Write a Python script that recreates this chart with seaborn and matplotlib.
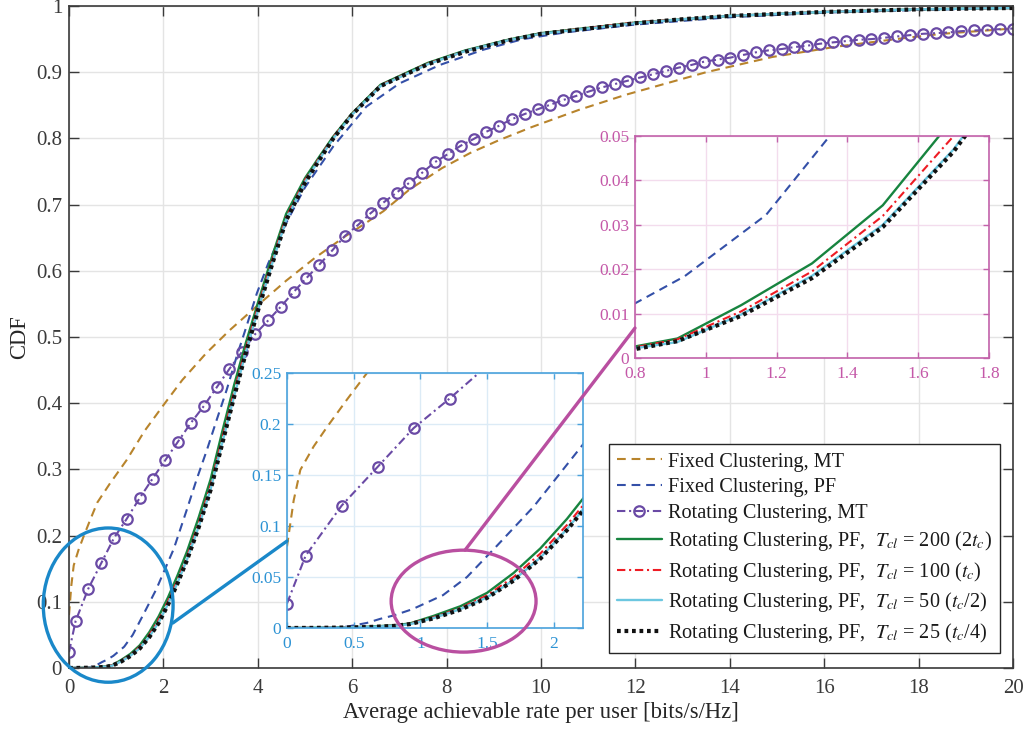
import matplotlib
matplotlib.use("Agg")
import matplotlib.pyplot as plt
import seaborn as sns
from matplotlib.patches import Ellipse, ConnectionPatch
from matplotlib.lines import Line2D

# ---------------- data ----------------
fixed_mt_x = [0, 0.05, 0.1, 0.2, 0.3, 0.45, 0.6, 0.87, 1.22, 1.6, 2.0, 2.4, 2.9, 3.4, 4.0,
              4.6, 5.2, 5.85, 6.2, 6.66, 7.2, 7.9, 8.5, 9.1, 9.8, 10.8, 11.8, 12.5, 13.5,
              14.9, 16.3, 17.75, 18.5, 20.0]
fixed_mt_y = [0.08, 0.125, 0.155, 0.178, 0.197, 0.224, 0.25, 0.279, 0.314, 0.358, 0.397,
              0.435, 0.475, 0.51, 0.548, 0.585, 0.619, 0.652, 0.668, 0.69, 0.722, 0.755,
              0.778, 0.797, 0.817, 0.843, 0.866, 0.88, 0.9, 0.923, 0.939, 0.952, 0.958, 0.966]

fixed_pf_x = [0, 0.3, 0.45, 0.6, 0.7, 0.8, 0.94, 1.17, 1.35, 1.57, 1.85, 2.22, 2.5, 2.7,
              2.92, 3.13, 3.34, 3.55, 3.76, 3.98, 4.22, 4.6, 5.0, 5.6, 6.3, 7.0, 7.86, 8.78,
              9.62, 10.5, 12.0, 14.0, 16.0, 18.0, 20.0]
fixed_pf_y = [0, 0.0003, 0.0013, 0.005, 0.009, 0.0123, 0.0184, 0.0322, 0.050, 0.080, 0.119,
              0.180, 0.240, 0.284, 0.329, 0.375, 0.420, 0.470, 0.516, 0.566, 0.611, 0.672,
              0.726, 0.788, 0.848, 0.883, 0.911, 0.934, 0.950, 0.960, 0.972, 0.983, 0.990,
              0.994, 0.997]

rot_mt_x = [0, 0.14, 0.41, 0.68, 0.95, 1.22, 1.50, 1.77, 2.04, 2.31, 2.58, 2.86, 3.13, 3.40,
            3.67, 3.94, 4.22, 4.49, 4.76, 5.03, 5.30, 5.58, 5.85, 6.12, 6.39, 6.66, 6.94,
            7.21, 7.48, 7.75, 8.02, 8.30, 8.57, 8.84, 9.11, 9.38, 9.66, 9.93, 10.20, 10.47,
            10.74, 11.02, 11.29, 11.56, 11.83, 12.10, 12.38, 12.65, 12.92, 13.19, 13.46,
            13.74, 14.01, 14.28, 14.55, 14.82, 15.10, 15.37, 15.64, 15.91, 16.18, 16.46,
            16.73, 17.00, 17.27, 17.54, 17.82, 18.09, 18.36, 18.63, 18.90, 19.18, 19.45,
            19.72, 20.00]
rot_mt_y = [0.024, 0.071, 0.120, 0.158, 0.196, 0.225,
            0.257, 0.286, 0.314, 0.342, 0.370, 0.396,
            0.424, 0.452, 0.478, 0.504, 0.525, 0.546,
            0.568, 0.589, 0.609, 0.631, 0.653, 0.669,
            0.687, 0.703, 0.718, 0.733, 0.748, 0.764,
            0.776, 0.789, 0.799, 0.810, 0.819, 0.829,
            0.837, 0.844, 0.851, 0.858, 0.864, 0.871,
            0.877, 0.882, 0.887, 0.892, 0.897, 0.902,
            0.907, 0.911, 0.916, 0.919, 0.922, 0.926,
            0.930, 0.933, 0.935, 0.938, 0.940, 0.943,
            0.945, 0.947, 0.949, 0.950, 0.952, 0.954,
            0.956, 0.958, 0.959, 0.960, 0.962, 0.963,
            0.964, 0.965, 0.966]

rot_pf_x = [0, 0.2, 0.4, 0.6, 0.8, 0.92, 1.1, 1.3, 1.5, 1.7, 1.9, 2.1, 2.3, 2.5, 2.75, 3.0,
            3.25, 3.5, 3.75, 4.0, 4.3, 4.6, 5.0, 5.3, 5.6, 6.0, 6.6, 7.6, 8.4, 9.3, 10.0,
            11.0, 12.0, 13.0, 14.0, 16.0, 18.0, 20.0]
rot_pf_200_y = [0, 0.0002, 0.0005, 0.0012, 0.0026, 0.0044, 0.0119, 0.0213, 0.0344, 0.054,
                0.078, 0.107, 0.140, 0.176, 0.228, 0.285, 0.358, 0.428, 0.492, 0.551,
                0.621, 0.686, 0.740, 0.772, 0.803, 0.838, 0.881, 0.914, 0.933, 0.949,
                0.959, 0.967, 0.975, 0.980, 0.985, 0.991, 0.995, 0.997]
rot_pf_100_y = [0, 0.0002, 0.0005, 0.0011, 0.0024, 0.0042, 0.0105, 0.0195, 0.0320, 0.050,
                0.073, 0.101, 0.133, 0.168, 0.219, 0.276, 0.348, 0.418, 0.484, 0.545,
                0.615, 0.681, 0.737, 0.770, 0.802, 0.837, 0.880, 0.913, 0.932, 0.948,
                0.958, 0.967, 0.975, 0.980, 0.985, 0.991, 0.995, 0.997]
rot_pf_50_y = [0, 0.0001, 0.0004, 0.0010, 0.0022, 0.0036, 0.0098, 0.0185, 0.0300, 0.047,
               0.069, 0.097, 0.129, 0.164, 0.214, 0.270, 0.341, 0.411, 0.478, 0.540,
               0.610, 0.677, 0.734, 0.768, 0.800, 0.836, 0.879, 0.912, 0.932, 0.948,
               0.958, 0.966, 0.974, 0.980, 0.985, 0.991, 0.995, 0.997]
rot_pf_25_y = [0, 0.0001, 0.0004, 0.0009, 0.0020, 0.0038, 0.0095, 0.0180, 0.0295, 0.0465,
               0.068, 0.096, 0.128, 0.163, 0.213, 0.269, 0.340, 0.410, 0.477, 0.539,
               0.609, 0.676, 0.733, 0.767, 0.800, 0.836, 0.879, 0.912, 0.931, 0.948,
               0.958, 0.966, 0.974, 0.980, 0.985, 0.991, 0.995, 0.997]

labels = ["Fixed Clustering, MT",
          "Fixed Clustering, PF",
          "Rotating Clustering, MT",
          r"Rotating Clustering, PF,  $T_{cl}$ = 200 (2$t_c$)",
          r"Rotating Clustering, PF,  $T_{cl}$ = 100 ($t_c$)",
          r"Rotating Clustering, PF,  $T_{cl}$ = 50 ($t_c$/2)",
          r"Rotating Clustering, PF,  $T_{cl}$ = 25 ($t_c$/4)"]

main_xticks = [0, 2, 4, 6, 8, 10, 12, 14, 16, 18, 20]
main_xticklabels = ["0", "2", "4", "6", "8", "10", "12", "14", "16", "18", "20"]
main_yticks = [0, 0.1, 0.2, 0.3, 0.4, 0.5, 0.6, 0.7, 0.8, 0.9, 1.0]
main_yticklabels = ["0", "0.1", "0.2", "0.3", "0.4", "0.5", "0.6", "0.7", "0.8", "0.9", "1"]
blue_xticks = [0, 0.5, 1, 1.5, 2]
blue_xticklabels = ["0", "0.5", "1", "1.5", "2"]
blue_yticks = [0, 0.05, 0.1, 0.15, 0.2, 0.25]
blue_yticklabels = ["0", "0.05", "0.1", "0.15", "0.2", "0.25"]
pink_xticks = [0.8, 1.0, 1.2, 1.4, 1.6, 1.8]
pink_xticklabels = ["0.8", "1", "1.2", "1.4", "1.6", "1.8"]
pink_yticks = [0, 0.01, 0.02, 0.03, 0.04, 0.05]
pink_yticklabels = ["0", "0.01", "0.02", "0.03", "0.04", "0.05"]

# ---------------- styling ----------------
sns.set_theme(style="whitegrid")
plt.rcParams['font.family'] = ['Liberation Serif', 'DejaVu Serif']
plt.rcParams['mathtext.fontset'] = 'stix'

styles = [
    dict(x=fixed_mt_x, y=fixed_mt_y, color='#b8842c', linestyle=(0, (4.2, 2.8)), linewidth=1.5),
    dict(x=fixed_pf_x, y=fixed_pf_y, color='#3450a8', linestyle=(0, (4.2, 2.8)), linewidth=1.5),
    dict(x=rot_mt_x, y=rot_mt_y, color='#6a4aa5', linestyle=(0, (4.0, 1.8, 1.0, 1.8)), linewidth=1.5,
         marker='o', markersize=7.5, markerfacecolor='none', markeredgecolor='#6a4aa5',
         markeredgewidth=1.6),
    dict(x=rot_pf_x, y=rot_pf_200_y, color='#17843f', linestyle='-', linewidth=1.7),
    dict(x=rot_pf_x, y=rot_pf_100_y, color='#ee1c24', linestyle=(0, (4.0, 1.8, 1.0, 1.8)), linewidth=1.5),
    dict(x=rot_pf_x, y=rot_pf_50_y, color='#6cc7e0', linestyle='-', linewidth=1.7),
    dict(x=rot_pf_x, y=rot_pf_25_y, color='#111111', linestyle=(0, (0.9, 0.9)), linewidth=3.0),
]


def draw_series(a):
    for st in styles:
        kws = {k: v for k, v in st.items() if k not in ('x', 'y')}
        if 'marker' not in kws:
            kws['marker'] = ''
            kws['markeredgewidth'] = 0
            kws['markeredgecolor'] = st['color']
        sns.lineplot(x=st['x'], y=st['y'], ax=a, estimator=None, sort=False, **kws)
        if a.get_legend() is not None:
            a.get_legend().remove()


def style_axes(a, xlim, ylim, xt, xtl, yt, ytl, spine_c, label_c, grid_c, lsize, tlen, xpad, ypad):
    a.set_facecolor('white')
    a.set_xlim(*xlim)
    a.set_ylim(*ylim)
    a.set_xticks(xt)
    a.set_xticklabels(xtl)
    a.set_yticks(yt)
    a.set_yticklabels(ytl)
    a.grid(True, color=grid_c, linewidth=1.0)
    a.set_axisbelow(True)
    for sp in a.spines.values():
        sp.set_visible(True)
        sp.set_color(spine_c)
        sp.set_linewidth(1.2)
    a.tick_params(direction='in', length=tlen, width=1.0, color=spine_c, labelcolor=label_c,
                  labelsize=lsize, top=True, right=True, bottom=True, left=True)
    a.tick_params(axis='x', pad=xpad)
    a.tick_params(axis='y', pad=ypad)
    a.set_xlabel('')
    a.set_ylabel('')


fig = plt.figure(figsize=(10.29, 7.32), dpi=100)
fig.patch.set_facecolor('white')

ax = fig.add_axes([69 / 1029, 1 - 668 / 732, 944 / 1029, 662 / 732])
draw_series(ax)
style_axes(ax, (0, 20), (0, 1), main_xticks, main_xticklabels, main_yticks, main_yticklabels,
           '#3a3a3a', '#3a3a3a', '#e4e4e4', 15, 7, 8, 5)
ax.set_xlabel('Average achievable rate per user [bits/s/Hz]', fontsize=16.3, color='#262626', labelpad=3)
ax.set_ylabel('CDF', fontsize=16.3, color='#262626', labelpad=4)

# legend
handles = []
for st in styles:
    handles.append(Line2D([], [], color=st['color'], linestyle=st['linestyle'],
                          linewidth=st['linewidth'], marker=st.get('marker', ''),
                          markersize=st.get('markersize', 0), markerfacecolor='none',
                          markeredgecolor=st['color'], markeredgewidth=st.get('markeredgewidth', 0)))
leg = ax.legend(handles, labels, loc='lower right', bbox_to_anchor=(0.986, 0.0227),
                frameon=True, fancybox=False, edgecolor='#262626', framealpha=1,
                fontsize=14.6, handlelength=2.2, handletextpad=0.3, borderpad=0.4,
                labelspacing=0.32, borderaxespad=0)
leg.get_frame().set_linewidth(1.0)
for t in leg.get_texts():
    t.set_color('#1a1a1a')

# blue inset
blue = '#2d93d4'
axb = fig.add_axes([287 / 1029, 1 - 628 / 732, 296 / 1029, 255 / 732])
draw_series(axb)
style_axes(axb, (0, 2.22), (0, 0.25), blue_xticks, blue_xticklabels, blue_yticks, blue_yticklabels,
           '#4aa2dc', blue, '#dcebf6', 12.5, 4, 6, 4)

# pink inset
pink = '#c458a8'
axp = fig.add_axes([635 / 1029, 1 - 358 / 732, 354 / 1029, 222 / 732])
draw_series(axp)
style_axes(axp, (0.8, 1.8), (0, 0.05), pink_xticks, pink_xticklabels, pink_yticks, pink_yticklabels,
           '#c262aa', pink, '#f3dced', 12.5, 4, 6, 4)

# zoom markers: ellipses and connecting lines
e1 = Ellipse((0.83, 0.095), 2.75, 0.233, transform=ax.transData, fill=False,
             edgecolor='#1a88c9', linewidth=2.4, zorder=10)
fig.add_artist(e1)
c1 = ConnectionPatch(xyA=(2.2, 0.068), coordsA=ax.transData, xyB=(0, 0.341), coordsB=axb.transAxes,
                     color='#1a88c9', linewidth=2.4, zorder=10)
fig.add_artist(c1)

e2 = Ellipse((8.36, 0.101), 3.07, 0.154, transform=ax.transData, fill=False,
             edgecolor='#b94fa0', linewidth=2.4, zorder=10)
fig.add_artist(e2)
c2 = ConnectionPatch(xyA=(8.39, 0.178), coordsA=ax.transData, xyB=(0, 0.135), coordsB=axp.transAxes,
                     color='#b94fa0', linewidth=2.4, zorder=10)
fig.add_artist(c2)

fig.savefig('out.png', dpi=100, facecolor='white')
